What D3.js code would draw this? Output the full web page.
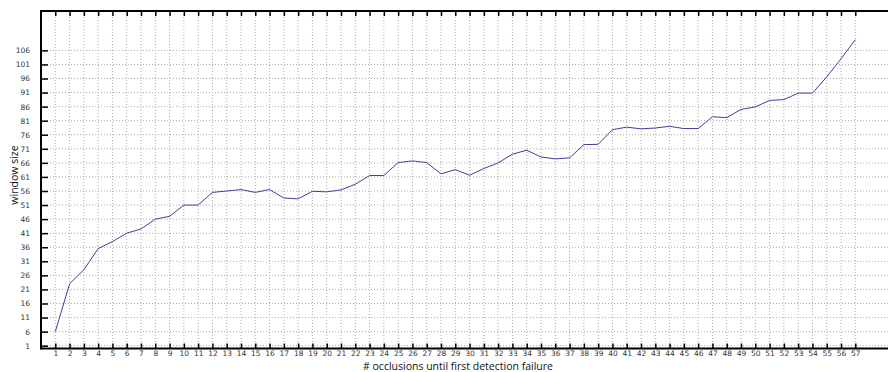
<!DOCTYPE html>
<html><head><meta charset="utf-8">
<script src="https://cdn.jsdelivr.net/npm/d3@7"></script>
<style>body{margin:0;background:#fff}svg{display:block}</style>
</head><body>
<svg id="c" width="888" height="372"></svg>
<script>
const occlusions = d3.range(1, 58);
const windowSize = [6,23,28,35.5,38,41,42.5,46,47,51,51,55.5,56,56.5,55.5,56.5,53.5,53.2,55.9,55.7,56.4,58.4,61.5,61.5,66.1,66.7,66.1,62.1,63.6,61.6,64,66,69.1,70.5,68.1,67.4,67.8,72.5,72.6,77.8,78.7,78.1,78.4,79,78.2,78.2,82.4,82.1,85,85.9,88.2,88.5,90.8,90.8,96.6,103,109.8];
const yTicks = d3.range(1, 107, 5);
const xLabel = "# occlusions until first detection failure";
const yLabel = "window size";

const svg = d3.select("#c");
const L = 41, T = 11, B = 348.5;
const x = d3.scaleLinear().domain([0, 60]).range([L, L + 60 * 14.286]);
const y = d3.scaleLinear().domain([0, 120]).range([B, T]);
const W = 888;

const g = svg.append("g");
// grid
g.selectAll(".vg").data(occlusions).join("line")
  .attr("x1", d => x(d)).attr("x2", d => x(d)).attr("y1", T).attr("y2", B)
  .attr("stroke", "#aaa").attr("stroke-width", 1).attr("stroke-dasharray", "1,2");
g.selectAll(".hg").data(yTicks).join("line")
  .attr("x1", L).attr("x2", W).attr("y1", d => y(d)).attr("y2", d => y(d))
  .attr("stroke", "#aaa").attr("stroke-width", 1).attr("stroke-dasharray", "1,2");

// line
svg.append("path").datum(windowSize)
  .attr("fill", "none").attr("stroke", "#3f3f9f").attr("stroke-width", 1)
  .attr("d", d3.line().x((d, i) => x(occlusions[i])).y(d => y(d)));

// axes
const xb = d3.axisBottom(x).tickValues(occlusions).tickSizeInner(-5).tickSizeOuter(0).tickPadding(2);
const ax = svg.append("g").attr("transform", `translate(0,${B})`).call(xb);
ax.select(".domain").remove();
ax.append("line").attr("x1", L).attr("x2", W).attr("stroke", "#000").attr("stroke-width", 2);
const xt = d3.axisTop(x).tickValues(occlusions).tickSizeInner(-5).tickSizeOuter(0).tickFormat("");
const at = svg.append("g").attr("transform", `translate(0,${T})`).call(xt);
at.select(".domain").remove();
at.append("line").attr("x1", L).attr("x2", W).attr("stroke", "#000").attr("stroke-width", 2);
const yl = d3.axisLeft(y).tickValues(yTicks).tickSizeInner(-7).tickSizeOuter(0).tickPadding(11);
const ay = svg.append("g").attr("transform", `translate(${L},0)`).call(yl);
ay.select(".domain").remove();
ay.append("line").attr("y1", T - 1).attr("y2", B + 1).attr("stroke", "#000").attr("stroke-width", 2);
svg.selectAll(".tick line").attr("stroke", "#000").attr("stroke-width", 1.5);
svg.selectAll(".tick text").attr("font-family", "DejaVu Sans").attr("font-size", 7.5).attr("fill", "#333");

svg.append("text").attr("x", 458).attr("y", 370).attr("text-anchor", "middle")
  .attr("font-family", "Open Sans").attr("font-size", 10.5).attr("fill", "#111").text(xLabel);
svg.append("text").attr("transform", "translate(18,175) rotate(-90)").attr("text-anchor", "middle")
  .attr("font-family", "Open Sans").attr("font-size", 10.5).attr("fill", "#111").text(yLabel);
</script>
</body></html>
